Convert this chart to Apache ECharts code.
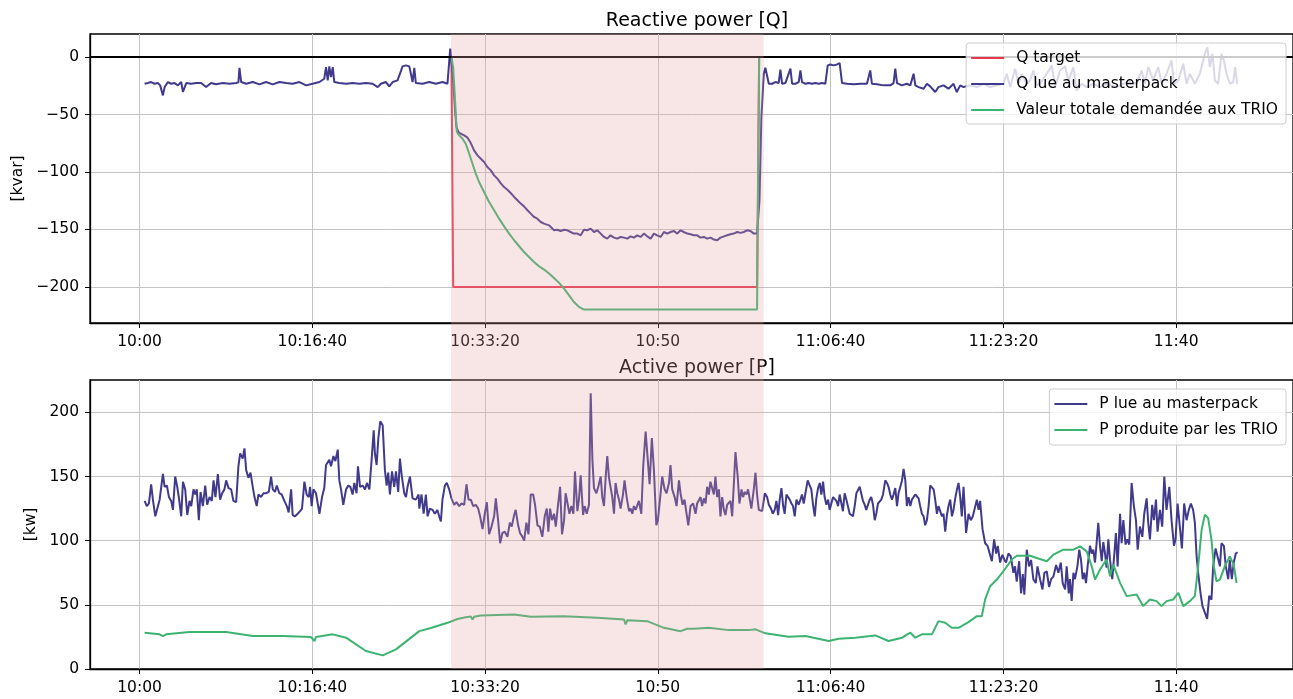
<!DOCTYPE html>
<html>
<head>
<meta charset="utf-8">
<script src="https://cdn.jsdelivr.net/npm/echarts@6.0.0/dist/echarts.min.js"></script>
<style>
  html, body { margin: 0; padding: 0; background: #fff; }
  #chart { width: 1293px; height: 699px; }
</style>
</head>
<body>
<div id="chart"></div>
<script>
// time values are seconds after 10:00:00
const T0 = 36000
const xMin = -287
const xMax = 6676
const xTicks = [0, 1000, 2000, 3000, 4000, 5000, 6000]
const qTicks = [-200, -150, -100, -50, 0]
const pTicks = [0, 50, 100, 150, 200]
const shade = [1803, 3612]

// Reactive power [kvar]
const qTarget = [[29, 0], [1805, 0], [1815, -200], [3574, -200], [3586, 0], [6353, 0]]
const qTrio = [[29, 0], [1805, 0], [1815, -8.7], [1826, -37.7], [1836, -65.2], [1850, -68.1], [1869, -71], [1888, -75.4],
  [1908, -84.1], [1927, -92.8], [1946, -101.5], [1965, -108.7], [1994, -117.4], [2023, -126.1], [2052, -133.3],
  [2081, -140.6], [2110, -147.3], [2139, -153.6], [2168, -159.4], [2197, -164.6], [2225, -169.6], [2254, -173.9],
  [2283, -178.3], [2312, -182], [2341, -184.9], [2370, -188.4], [2399, -192.2], [2428, -196.5], [2457, -201.5],
  [2486, -207.3], [2514, -213.1], [2543, -217.4], [2572, -219.7], [3574, -219.7], [3586, 0], [6353, 0]]
const qLue = [[29, -23.2], [48, -22.6], [67, -21.7], [87, -23.2], [106, -22.6], [119, -24.6], [135, -33.3], [145, -26.1],
  [164, -21.7], [183, -23.2], [202, -22.6], [222, -24.6], [241, -21.7], [251, -30.4], [270, -22.6], [299, -23.2],
  [328, -22.6], [356, -22.6], [385, -26.1], [414, -22.6], [443, -23.7], [482, -22.6], [520, -23.2], [559, -22.6],
  [572, -22], [578, -9.3], [588, -21.7], [617, -23.2], [655, -21.7], [694, -23.7], [732, -21.7], [771, -23.7],
  [809, -21.7], [848, -22.6], [886, -23.2], [925, -21.7], [964, -24.6], [1002, -23.2], [1041, -21.7], [1069, -18.8],
  [1079, -8.7], [1089, -20.3], [1098, -8.1], [1108, -17.4], [1118, -8.7], [1127, -21.7], [1156, -22.6], [1195, -23.2],
  [1233, -22.6], [1272, -23.2], [1310, -22.6], [1349, -23.2], [1378, -26.1], [1397, -23.2], [1426, -21.7], [1445, -25.5],
  [1465, -21.7], [1493, -20.3], [1513, -12], [1522, -8.1], [1542, -7.2], [1561, -8.1], [1571, -15], [1580, -21.7],
  [1590, -9.3], [1599, -22.6], [1638, -23.2], [1676, -21.7], [1715, -23.2], [1754, -21.7], [1782, -23.2], [1798, 7.5],
  [1815, -20.3], [1826, -46.4], [1834, -60.9], [1846, -65.2], [1859, -66.7], [1879, -68.1], [1898, -70.1], [1917, -74.8],
  [1936, -81.2], [1956, -85.5], [1975, -88.4], [1994, -91.3], [2013, -95.7], [2033, -98.6], [2052, -102.9], [2071, -105.8],
  [2090, -109.6], [2110, -113.1], [2129, -115.4], [2148, -118.3], [2168, -121.7], [2187, -124.6], [2206, -127.5],
  [2225, -129.9], [2245, -133.3], [2264, -136.2], [2283, -139.1], [2302, -140.6], [2322, -143.5], [2341, -144.9],
  [2370, -146.4], [2399, -150.7], [2418, -150.2], [2437, -151.3], [2457, -150.2], [2476, -150.7], [2495, -152.2],
  [2514, -153.6], [2534, -153.6], [2553, -155.1], [2572, -150.2], [2591, -150.7], [2611, -149.3], [2630, -152.2],
  [2649, -150.7], [2669, -153.6], [2688, -156.5], [2707, -158], [2726, -155.1], [2746, -157.1], [2765, -158],
  [2784, -156.5], [2804, -157.1], [2823, -158], [2842, -156], [2861, -157.1], [2880, -155.1], [2900, -156.5],
  [2919, -153.6], [2938, -156], [2958, -158], [2977, -153.6], [2996, -155.1], [3016, -156.5], [3035, -152.2],
  [3054, -153.6], [3073, -152.2], [3093, -151.3], [3112, -153.6], [3131, -150.7], [3150, -152.2], [3170, -153.6],
  [3189, -154.2], [3208, -155.1], [3227, -155.1], [3247, -157.1], [3266, -156.5], [3285, -158], [3305, -157.1],
  [3324, -158.8], [3343, -159.4], [3362, -157.1], [3382, -156], [3401, -155.1], [3420, -154.2], [3439, -153.6],
  [3459, -152.2], [3478, -153], [3497, -152.2], [3516, -150.7], [3536, -151.3], [3555, -153.6], [3574, -153.6],
  [3588, -124.6], [3599, -52.2], [3613, -14.5], [3622, -9.3], [3632, -10.1], [3642, -23.2], [3661, -23.2], [3680, -21.7],
  [3699, -22.6], [3709, -11], [3719, -23.2], [3738, -22.6], [3748, -21.7], [3767, -10.1], [3777, -23.2], [3796, -23.2],
  [3815, -21.7], [3825, -11.6], [3834, -21.7], [3854, -23.2], [3873, -22.6], [3892, -23.2], [3911, -22.6], [3931, -23.2],
  [3950, -22.6], [3969, -23.2], [3983, -7.2], [3998, -6.4], [4017, -7.2], [4037, -6.4], [4052, -5.2], [4066, -22.6],
  [4095, -23.2], [4133, -23.7], [4172, -23.2], [4210, -23.2], [4229, -11.6], [4239, -23.2], [4268, -23.7], [4306, -24.6],
  [4345, -24.6], [4364, -22.6], [4374, -10.1], [4384, -22.6], [4412, -24.6], [4441, -23.2], [4461, -24.6], [4480, -14.5],
  [4490, -24.6], [4509, -26.1], [4538, -27.5], [4557, -23.2], [4576, -25.5], [4605, -30.4], [4624, -26.1], [4653, -24.6],
  [4682, -27.5], [4711, -23.2], [4730, -30.4], [4750, -24.6], [4769, -26.1], [4807, -24.6], [4846, -26.1], [4885, -23.2],
  [4923, -26.1], [4962, -24.6], [5000, -23.2], [5019, -14.5], [5039, -26.1], [5068, -10.1], [5087, -23.2], [5106, -14.5],
  [5135, -23.2], [5154, -20.3], [5174, -11.6], [5193, -24.6], [5212, -23.2], [5251, -14.5], [5280, -7.2], [5299, -26.1],
  [5328, -11.6], [5357, -8.1], [5376, -20.3], [5405, -8.7], [5424, -29], [5453, -23.2], [5482, -26.1], [5521, -23.2],
  [5559, -26.1], [5598, -23.2], [5626, -24.6], [5655, -26.1], [5694, -23.2], [5732, -21.7], [5771, -23.2], [5800, -11.6],
  [5819, -23.2], [5838, -8.7], [5867, -20.3], [5896, -8.7], [5916, -23.2], [5944, -14.5], [5973, -2.9], [5987, -23.2],
  [6012, -20.3], [6041, -5.8], [6060, -23.2], [6079, -14.5], [6108, -23.2], [6137, -14.5], [6166, 2.9], [6180, 8.7],
  [6195, -8.7], [6210, 2.9], [6224, -20.3], [6243, -23.2], [6262, 2.9], [6276, -2.9], [6291, -14.5], [6311, -23.2],
  [6330, -21.7], [6341, -8.7], [6353, -23.2]]

// Active power [kW]
const pLue = [[29, 131], [42, 127], [54, 129], [67, 144], [77, 132], [91, 119], [102, 118], [116, 132], [135, 152], [145, 142],
  [158, 143], [170, 134], [183, 131], [193, 124], [206, 150], [218, 142], [227, 134], [241, 119], [251, 146], [264, 140],
  [276, 120], [289, 131], [299, 127], [312, 140], [322, 136], [331, 140], [343, 116], [353, 138], [366, 127], [380, 143],
  [391, 128], [405, 134], [418, 131], [428, 147], [439, 134], [453, 152], [466, 132], [478, 137], [491, 140], [501, 147],
  [515, 141], [530, 140], [543, 131], [559, 130], [572, 158], [582, 168], [597, 164], [607, 172], [617, 155], [630, 149],
  [642, 153], [655, 142], [665, 134], [678, 127], [688, 136], [703, 134], [717, 137], [732, 137], [748, 138], [761, 150],
  [771, 140], [784, 138], [794, 143], [809, 137], [823, 136], [838, 131], [852, 127], [863, 122], [877, 140], [886, 120],
  [900, 119], [915, 121], [929, 123], [940, 125], [954, 146], [967, 136], [979, 134], [987, 142], [996, 127], [1006, 140],
  [1021, 137], [1041, 121], [1056, 134], [1069, 141], [1079, 159], [1089, 158], [1098, 163], [1108, 158], [1122, 166],
  [1133, 162], [1147, 171], [1156, 147], [1166, 140], [1179, 128], [1195, 140], [1208, 143], [1220, 142], [1233, 136],
  [1243, 145], [1256, 137], [1264, 158], [1276, 142], [1291, 143], [1305, 140], [1316, 145], [1330, 140], [1343, 163],
  [1355, 186], [1362, 168], [1372, 159], [1382, 180], [1393, 193], [1407, 190], [1420, 155], [1430, 143], [1439, 153],
  [1449, 136], [1461, 154], [1474, 142], [1484, 154], [1497, 138], [1507, 164], [1518, 150], [1532, 137], [1542, 134],
  [1551, 142], [1565, 150], [1580, 133], [1599, 132], [1615, 136], [1619, 125], [1632, 136], [1644, 121], [1657, 136],
  [1667, 119], [1680, 125], [1696, 124], [1709, 121], [1724, 124], [1734, 119], [1744, 115], [1753, 132], [1767, 143],
  [1778, 145], [1792, 140], [1805, 133], [1821, 128], [1834, 130], [1850, 127], [1863, 129], [1879, 128], [1892, 144],
  [1904, 132], [1917, 132], [1931, 127], [1946, 128], [1960, 125], [1971, 119], [1985, 109], [1998, 121], [2010, 130],
  [2023, 105], [2037, 111], [2052, 119], [2062, 133], [2075, 116], [2087, 98], [2100, 106], [2114, 107], [2129, 103],
  [2143, 114], [2154, 111], [2168, 120], [2177, 124], [2191, 112], [2202, 106], [2216, 103], [2226, 100], [2239, 114],
  [2251, 105], [2264, 136], [2278, 136], [2289, 128], [2303, 112], [2316, 111], [2331, 103], [2345, 119], [2357, 125],
  [2366, 107], [2376, 125], [2387, 116], [2399, 121], [2409, 111], [2422, 128], [2434, 142], [2445, 105], [2457, 116],
  [2466, 137], [2476, 137], [2488, 121], [2499, 127], [2511, 121], [2520, 154], [2534, 123], [2543, 132], [2553, 151],
  [2567, 120], [2576, 127], [2588, 121], [2601, 128], [2611, 215], [2621, 163], [2630, 141], [2644, 137], [2655, 142],
  [2669, 150], [2678, 134], [2688, 127], [2698, 150], [2707, 166], [2717, 149], [2727, 141], [2736, 134], [2746, 121],
  [2755, 145], [2765, 137], [2775, 132], [2784, 125], [2798, 136], [2807, 147], [2819, 134], [2833, 123], [2842, 125],
  [2852, 121], [2861, 127], [2871, 124], [2881, 125], [2890, 131], [2904, 121], [2915, 158], [2929, 185], [2942, 162],
  [2952, 144], [2965, 180], [2977, 155], [2991, 112], [3000, 116], [3012, 132], [3025, 150], [3039, 140], [3050, 137],
  [3064, 145], [3073, 159], [3083, 140], [3097, 134], [3108, 127], [3122, 147], [3131, 137], [3143, 128], [3154, 132],
  [3166, 121], [3176, 112], [3189, 127], [3204, 129], [3218, 121], [3227, 129], [3237, 128], [3247, 134], [3256, 127],
  [3266, 133], [3276, 129], [3285, 142], [3295, 136], [3304, 146], [3314, 147], [3324, 136], [3333, 150], [3343, 134],
  [3353, 140], [3362, 119], [3372, 134], [3382, 124], [3391, 120], [3401, 128], [3410, 129], [3420, 131], [3430, 119],
  [3449, 169], [3462, 150], [3472, 129], [3484, 140], [3493, 134], [3503, 138], [3513, 136], [3522, 140], [3532, 132],
  [3541, 125], [3555, 140], [3565, 153], [3574, 136], [3584, 124], [3594, 125], [3603, 123], [3619, 137], [3632, 134],
  [3642, 128], [3655, 125], [3665, 121], [3676, 124], [3686, 131], [3696, 120], [3705, 132], [3715, 141], [3725, 127],
  [3734, 121], [3744, 136], [3753, 137], [3763, 132], [3773, 129], [3782, 127], [3792, 119], [3802, 132], [3815, 128],
  [3825, 132], [3834, 136], [3844, 129], [3854, 137], [3867, 147], [3879, 143], [3888, 140], [3898, 128], [3908, 119],
  [3917, 133], [3927, 141], [3937, 145], [3946, 136], [3956, 146], [3965, 134], [3975, 128], [3985, 132], [3994, 124],
  [4004, 129], [4014, 134], [4023, 134], [4033, 131], [4043, 127], [4052, 136], [4062, 136], [4071, 123], [4081, 137],
  [4091, 132], [4100, 133], [4110, 121], [4120, 121], [4129, 119], [4139, 127], [4149, 137], [4158, 138], [4168, 142],
  [4177, 141], [4187, 131], [4197, 128], [4206, 124], [4216, 125], [4226, 132], [4235, 134], [4245, 128], [4255, 116],
  [4264, 121], [4274, 129], [4283, 128], [4293, 132], [4303, 136], [4316, 147], [4326, 145], [4335, 142], [4345, 136],
  [4355, 132], [4364, 136], [4374, 141], [4384, 127], [4393, 137], [4403, 136], [4413, 147], [4422, 156], [4432, 147],
  [4441, 127], [4451, 134], [4461, 127], [4470, 132], [4490, 136], [4499, 137], [4509, 133], [4518, 127], [4528, 121],
  [4538, 119], [4547, 112], [4557, 116], [4567, 127], [4576, 143], [4586, 142], [4596, 140], [4605, 132], [4615, 121],
  [4624, 127], [4634, 123], [4644, 119], [4653, 121], [4663, 107], [4673, 120], [4682, 127], [4692, 132], [4702, 119],
  [4711, 124], [4721, 133], [4731, 140], [4740, 145], [4750, 134], [4759, 119], [4769, 142], [4784, 106], [4798, 121],
  [4811, 116], [4823, 119], [4846, 132], [4856, 124], [4865, 131], [4879, 109], [4894, 98], [4908, 96], [4919, 97],
  [4933, 84], [4946, 101], [4958, 90], [4967, 96], [4981, 83], [4994, 89], [5006, 85], [5015, 83], [5029, 90], [5042, 88],
  [5058, 75], [5067, 80], [5077, 68], [5091, 84], [5102, 59], [5112, 74], [5121, 58], [5135, 93], [5148, 80], [5160, 85],
  [5173, 70], [5187, 67], [5197, 80], [5212, 70], [5226, 62], [5237, 75], [5251, 76], [5264, 64], [5276, 70], [5289, 72],
  [5305, 81], [5318, 75], [5332, 83], [5343, 67], [5357, 62], [5366, 80], [5378, 59], [5385, 70], [5395, 53], [5405, 75],
  [5414, 70], [5428, 80], [5439, 93], [5449, 85], [5459, 70], [5468, 75], [5478, 67], [5488, 81], [5501, 96], [5511, 90],
  [5520, 93], [5530, 83], [5549, 114], [5559, 96], [5569, 84], [5578, 99], [5588, 90], [5597, 79], [5607, 101], [5617, 85],
  [5630, 70], [5642, 90], [5651, 106], [5661, 80], [5675, 121], [5684, 98], [5694, 116], [5707, 97], [5717, 101],
  [5728, 97], [5742, 145], [5755, 127], [5767, 116], [5777, 93], [5790, 111], [5804, 103], [5815, 121], [5829, 133],
  [5838, 114], [5848, 101], [5861, 128], [5871, 116], [5883, 132], [5892, 107], [5906, 124], [5919, 111], [5931, 150],
  [5944, 124], [5960, 142], [5973, 116], [5987, 96], [5996, 101], [6008, 129], [6021, 111], [6033, 94], [6046, 129],
  [6060, 116], [6073, 124], [6085, 129], [6098, 124], [6108, 114], [6118, 88], [6127, 75], [6141, 59], [6152, 49],
  [6166, 44], [6179, 39], [6191, 57], [6204, 54], [6214, 80], [6228, 94], [6239, 93], [6253, 80], [6262, 98], [6276, 96],
  [6287, 80], [6301, 70], [6310, 85], [6322, 70], [6333, 83], [6345, 90], [6355, 91]]
const pTrio = [[29, 28.3], [116, 27], [135, 25.7], [154, 27], [289, 28.8], [501, 28.8], [655, 25.7], [829, 25.7], [992, 24.9],
  [1012, 21.8], [1021, 25], [1118, 27], [1195, 24.4], [1310, 14], [1407, 10.6], [1484, 15.3], [1619, 29.5], [1686, 32],
  [1782, 36], [1840, 39], [1888, 40.4], [1917, 41], [1927, 38.6], [1936, 40.7], [1975, 41.7], [2168, 42.5], [2264, 40.7],
  [2457, 41.2], [2649, 39.9], [2804, 38.6], [2813, 34.7], [2823, 38], [2938, 37.3], [3035, 32.1], [3131, 29.5],
  [3170, 31.4], [3208, 31.4], [3295, 32.1], [3410, 30.3], [3526, 30.3], [3565, 30.9], [3622, 27.8], [3757, 25.2],
  [3854, 25.7], [3989, 21.8], [4046, 23.6], [4143, 24.4], [4229, 25.7], [4258, 26.2], [4335, 21.8], [4413, 24.4],
  [4461, 28.3], [4490, 24.4], [4528, 27], [4586, 27], [4624, 37.3], [4663, 36], [4701, 32.1], [4740, 32.1], [4798, 36.5],
  [4807, 36], [4846, 41.2], [4875, 41.2], [4894, 54.2], [4923, 64.5], [4962, 69.7], [5000, 76.2], [5048, 85.3],
  [5077, 88.3], [5154, 88.3], [5193, 86.5], [5251, 84], [5289, 89.1], [5347, 93], [5405, 93], [5443, 95.6], [5482, 91.7],
  [5511, 80], [5530, 69.7], [5559, 77.5], [5597, 85.3], [5617, 72.3], [5636, 81.4], [5675, 67.1], [5713, 56.8], [5771, 58],
  [5809, 49], [5848, 54.2], [5886, 52.9], [5915, 49], [5944, 52.9], [5983, 54.2], [6012, 59.3], [6041, 49], [6079, 52.9],
  [6108, 56.8], [6127, 80], [6147, 108.5], [6166, 120.2], [6185, 117.6], [6204, 100.8], [6218, 80], [6233, 68.4],
  [6253, 69.7], [6281, 80], [6310, 87.8], [6333, 81.4], [6349, 67.1]]

const RED = '#e6374f'
const NAVY = '#413a8c'
const GREEN = '#3cb371'
const FONT = 'DejaVu Sans'

const pts = arr => arr.map(p => [T0 + p[0], p[1]])
const pad = n => (n < 10 ? '0' : '') + n
function timeLabel(v) {
  const h = Math.floor(v / 3600)
  const m = Math.floor((v % 3600) / 60)
  const s = Math.round(v % 60)
  return h + ':' + pad(m) + (s ? ':' + pad(s) : '')
}
const minus = v => String(v).replace('-', '\u2212')

function xAxis(gridIndex) {
  return {
    type: 'value',
    gridIndex: gridIndex,
    min: T0 + xMin,
    max: T0 + xMax,
    axisLine: { show: true, onZero: false, lineStyle: { color: '#000', width: 1.3 } },
    axisTick: { show: true, length: 5, lineStyle: { color: '#000' }, customValues: xTicks.map(t => T0 + t) },
    axisLabel: { color: '#000', fontSize: 15.5, fontFamily: FONT, margin: 11, formatter: timeLabel, customValues: xTicks.map(t => T0 + t) },
    splitLine: { show: true, lineStyle: { color: '#c4c4c4', width: 1 } }
  }
}

function yAxis(gridIndex, min, max, ticks, name, gap) {
  return {
    type: 'value',
    gridIndex: gridIndex,
    min: min,
    max: max,
    name: name,
    nameLocation: 'middle',
    nameGap: gap,
    nameRotate: 90,
    nameTextStyle: { color: '#000', fontSize: 15.5, fontFamily: FONT },
    axisLine: { show: true, lineStyle: { color: '#000', width: 1.3 } },
    axisTick: { show: true, length: 5, lineStyle: { color: '#000' }, customValues: ticks },
    axisLabel: { color: '#000', fontSize: 15.5, fontFamily: FONT, margin: 11, formatter: minus, customValues: ticks },
    splitLine: { show: true, lineStyle: { color: '#c4c4c4', width: 1 } }
  }
}

function line(name, data, color, xi, yi, extra) {
  return Object.assign({
    name: name,
    type: 'line',
    xAxisIndex: xi,
    yAxisIndex: yi,
    data: pts(data),
    showSymbol: false,
    symbol: 'none',
    lineStyle: { color: color, width: 2 },
    itemStyle: { color: color },
    z: 2
  }, extra || {})
}

const legendBase = {
  orient: 'vertical',
  right: 7,
  icon: 'rect',
  itemWidth: 33,
  itemHeight: 2,
  itemGap: 8,
  selectedMode: false,
  backgroundColor: 'rgba(255,255,255,0.8)',
  borderColor: '#cccccc',
  borderWidth: 1,
  borderRadius: 3,
  z: 6,
  textStyle: { color: '#000', fontSize: 15.5, fontFamily: FONT, lineHeight: 18, padding: [0, 0, 0, 7] }
}

const chart = echarts.init(document.getElementById('chart'))
chart.setOption({
  animation: false,
  backgroundColor: '#fff',
  title: [
    { text: 'Reactive power [Q]', left: 692, top: 7, textAlign: 'center',
      textStyle: { color: '#000', fontSize: 19, fontWeight: 'normal', fontFamily: FONT } },
    { text: 'Active power [P]', left: 692, top: 354, textAlign: 'center',
      textStyle: { color: '#000', fontSize: 19, fontWeight: 'normal', fontFamily: FONT } }
  ],
  legend: [
    Object.assign({}, legendBase, { top: 43, padding: [6, 8, 5, 5],
      data: ['Q target', 'Q lue au masterpack', 'Valeur totale demandée aux TRIO'] }),
    Object.assign({}, legendBase, { top: 389, padding: [6, 8, 6, 5],
      data: ['P lue au masterpack', 'P produite par les TRIO'] })
  ],
  grid: [
    { left: 90, width: 1205, top: 34, height: 289, show: true, borderColor: '#000', borderWidth: 1.3 },
    { left: 90, width: 1205, top: 380, height: 289, show: true, borderColor: '#000', borderWidth: 1.3 },
    { left: 90, width: 1205, top: 34, height: 635 }
  ],
  xAxis: [
    xAxis(0),
    xAxis(1),
    { type: 'value', gridIndex: 2, min: T0 + xMin, max: T0 + xMax, show: false }
  ],
  yAxis: [
    yAxis(0, -231.4, 20.1, qTicks, '[kvar]', 61),
    yAxis(1, 0, 225.25, pTicks, '[kw]', 48),
    { type: 'value', gridIndex: 2, min: 0, max: 1, show: false }
  ],
  series: [
    line('Q target', qTarget, RED, 0, 0, {
      markLine: {
        silent: true,
        z: 3,
        symbol: ['none', 'none'],
        label: { show: false },
        lineStyle: { color: '#000', width: 2, type: 'solid' },
        data: [{ yAxis: 0 }]
      }
    }),
    line('Q lue au masterpack', qLue, NAVY, 0, 0),
    line('Valeur totale demandée aux TRIO', qTrio, GREEN, 0, 0),
    line('P lue au masterpack', pLue, NAVY, 1, 1),
    line('P produite par les TRIO', pTrio, GREEN, 1, 1),
    {
      type: 'line',
      xAxisIndex: 2,
      yAxisIndex: 2,
      data: [],
      silent: true,
      z: 10,
      markArea: {
        silent: true,
        z: 10,
        itemStyle: { color: 'rgba(228,160,160,0.27)' },
        data: [[{ xAxis: T0 + shade[0] }, { xAxis: T0 + shade[1] }]]
      }
    }
  ]
})
</script>
</body>
</html>
